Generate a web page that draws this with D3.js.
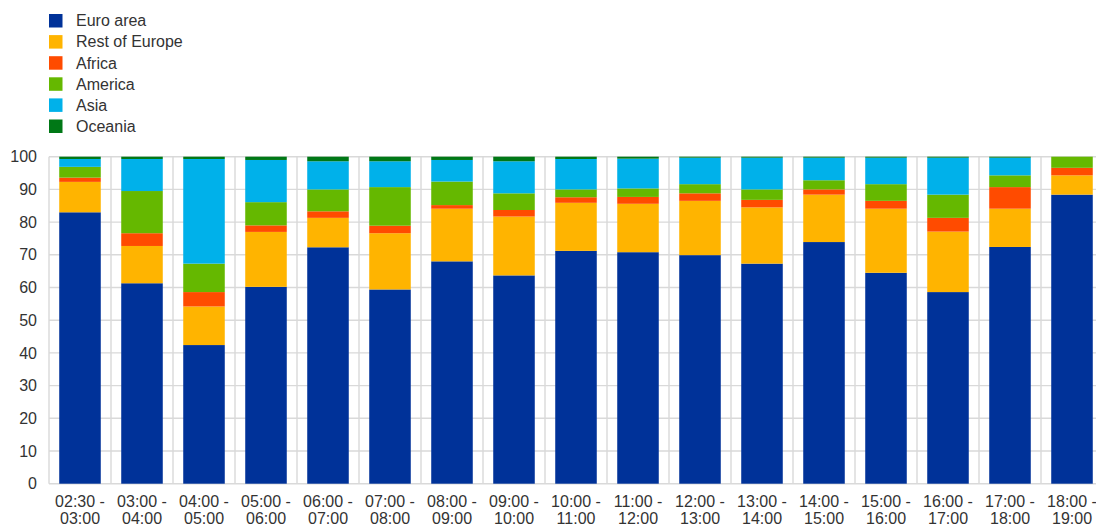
<!DOCTYPE html>
<html>
<head>
<meta charset="utf-8">
<script src="https://cdn.jsdelivr.net/npm/d3@7"></script>
<style>
  body { margin: 0; background: #fff; }
  svg { display: block; font-family: "Liberation Sans", Arial, sans-serif; }
</style>
</head>
<body>
<div id="chart"></div>
<script>
// categories (time slots)
const categories = ['02:30 - 03:00', '03:00 - 04:00', '04:00 - 05:00', '05:00 - 06:00', '06:00 - 07:00',
  '07:00 - 08:00', '08:00 - 09:00', '09:00 - 10:00', '10:00 - 11:00', '11:00 - 12:00', '12:00 - 13:00',
  '13:00 - 14:00', '14:00 - 15:00', '15:00 - 16:00', '16:00 - 17:00', '17:00 - 18:00', '18:00 - 19:00'];

// series values (% share)
const euroArea     = [83.0, 61.3, 42.4, 60.2, 72.3, 59.4, 68.0, 63.7, 71.2, 70.8, 69.9, 67.3, 73.9, 64.5, 58.6, 72.4, 88.4];
const restOfEurope = [ 9.3, 11.4, 11.8, 16.8,  9.0, 17.2, 16.1, 18.0, 14.7, 14.8, 16.6, 17.2, 14.5, 19.6, 18.5, 11.7,  5.9];
const africa       = [ 1.3,  3.9,  4.4,  2.0,  2.0,  2.3,  1.1,  2.0,  1.7,  2.1,  2.3,  2.3,  1.6,  2.4,  4.2,  6.6,  2.3];
const america      = [ 3.3, 12.9,  8.7,  7.1,  6.7, 11.8,  7.2,  5.1,  2.4,  2.6,  2.8,  3.2,  2.8,  5.1,  7.1,  3.6,  3.4];
const asia         = [ 2.4,  9.8, 32.0, 12.9,  8.6,  7.9,  6.6,  9.8,  9.3,  9.1,  8.1,  9.7,  6.9,  8.1, 11.3,  5.4,  0.0];
const oceania      = [ 0.7,  0.7,  0.7,  1.0,  1.4,  1.4,  1.0,  1.4,  0.7,  0.6,  0.3,  0.3,  0.3,  0.3,  0.3,  0.3,  0.0];

const seriesNames = ['Euro area', 'Rest of Europe', 'Africa', 'America', 'Asia', 'Oceania'];
const seriesValues = [euroArea, restOfEurope, africa, america, asia, oceania];
const colors = ['#003299', '#ffb400', '#ff4b00', '#65b800', '#00b1ea', '#007816'];

// y-axis ticks
const yTicks = [0, 10, 20, 30, 40, 50, 60, 70, 80, 90, 100];

let w = 1096, h = 526;
let plotLeft = 49, plotTop = 156.7, plotBottom = 483.7;
let bandW = 62;

let rows = categories.map((c, i) => {
  let r = { cat: c };
  seriesNames.forEach((s, j) => r[s] = seriesValues[j][i]);
  return r;
});

let svg = d3.select('#chart').append('svg').attr('width', w).attr('height', h);

let xScale = d3.scaleBand()
  .domain(categories)
  .range([plotLeft, plotLeft + bandW * categories.length])
  .paddingInner(0.33)
  .paddingOuter(0.165);

let yScale = d3.scaleLinear()
  .domain([0, 100])
  .range([plotBottom, plotTop]);

// horizontal gridlines
svg.append('g')
  .selectAll('line')
  .data(yTicks)
  .enter()
  .append('line')
  .attr('x1', plotLeft)
  .attr('x2', w)
  .attr('y1', d => yScale(d))
  .attr('y2', d => yScale(d))
  .attr('stroke', '#d9d9d9')
  .attr('stroke-width', 1.4);

// vertical gridlines at category boundaries
let bounds = d3.range(categories.length + 1).map(i => plotLeft + i * bandW);
svg.append('g')
  .selectAll('line')
  .data(bounds)
  .enter()
  .append('line')
  .attr('x1', d => d)
  .attr('x2', d => d)
  .attr('y1', plotTop)
  .attr('y2', plotBottom)
  .attr('stroke', '#d9d9d9')
  .attr('stroke-width', 1.4);

let stack = d3.stack().keys(seriesNames);
let stacked = stack(rows);

svg.append('g')
  .selectAll('g')
  .data(stacked)
  .enter()
  .append('g')
  .attr('fill', (d, i) => colors[i])
  .selectAll('rect')
  .data(d => d)
  .enter()
  .append('rect')
  .attr('x', d => xScale(d.data.cat))
  .attr('width', xScale.bandwidth())
  .attr('y', d => yScale(d[1]))
  .attr('height', d => yScale(d[0]) - yScale(d[1]));

// y axis labels
let yAxis = d3.axisLeft(yScale).tickValues(yTicks).tickSize(0).tickPadding(12);
let gy = svg.append('g')
  .attr('transform', 'translate(' + plotLeft + ',0)')
  .call(yAxis);
gy.select('.domain').remove();
gy.selectAll('text')
  .attr('font-size', 16)
  .attr('font-family', '"Liberation Sans", Arial, sans-serif')
  .attr('fill', '#333');

// x axis labels, two lines each
let xAxis = d3.axisBottom(xScale).tickSize(0).tickFormat('');
let gx = svg.append('g')
  .attr('transform', 'translate(0,' + plotBottom + ')')
  .call(xAxis);
gx.select('.domain').remove();
gx.selectAll('.tick')
  .append('text')
  .attr('font-size', 16)
  .attr('font-family', '"Liberation Sans", Arial, sans-serif')
  .attr('fill', '#333')
  .attr('text-anchor', 'middle')
  .selectAll('tspan')
  .data(d => { let p = d.split(' - '); return [p[0] + ' -', p[1]]; })
  .enter()
  .append('tspan')
  .attr('x', 0)
  .attr('y', (d, i) => 23.5 + i * 17.3)
  .text(d => d);

// legend
let legend = svg.append('g')
  .selectAll('g')
  .data(seriesNames)
  .enter()
  .append('g')
  .attr('transform', (d, i) => 'translate(49,' + (14 + i * 21.1) + ')');
legend.append('rect')
  .attr('width', 13.5)
  .attr('height', 13.5)
  .attr('fill', (d, i) => colors[i]);
legend.append('text')
  .attr('x', 27)
  .attr('y', 12.3)
  .attr('font-size', 16)
  .attr('fill', '#333')
  .text(d => d);
</script>
</body>
</html>
